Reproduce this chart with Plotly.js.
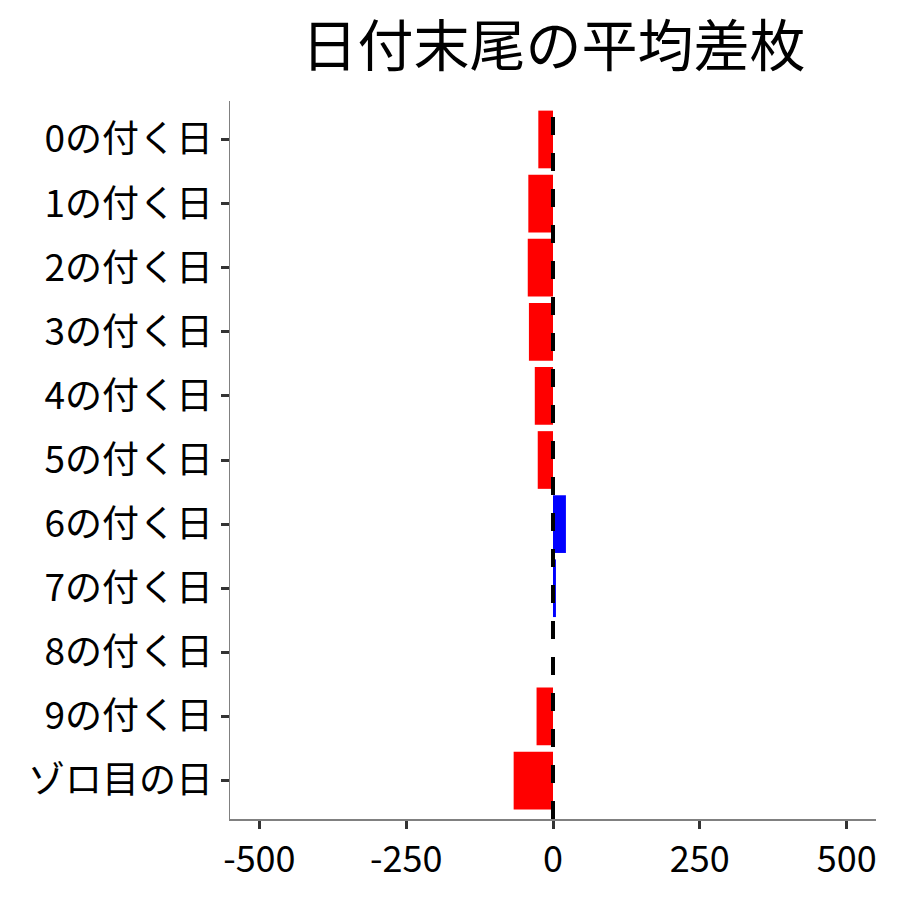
<!DOCTYPE html>
<html>
<head>
<meta charset="utf-8">
<script src="https://cdn.plot.ly/plotly-3.0.1.min.js"></script>
<style>html,body{margin:0;padding:0;background:#fff;}</style>
</head>
<body>
<div id="chart" style="width:900px;height:900px;"></div>
<script>
const categories = ["0の付く日","1の付く日","2の付く日","3の付く日","4の付く日","5の付く日","6の付く日","7の付く日","8の付く日","9の付く日","ゾロ目の日"];
const values = [-25, -42, -43, -41, -31, -26, 22, 5, 0, -28, -67];
const xTicks = [-500, -250, 0, 250, 500];
const xTickLabels = ["-500", "-250", "0", "250", "500"];
const titleText = "日付末尾の平均差枚";

const colors = values.map(v => v < 0 ? "#FF0000" : "#0000FF");
const font = "Noto Sans CJK JP, Noto Sans, sans-serif";

const trace = {
  type: "bar",
  orientation: "h",
  x: values,
  y: categories,
  marker: {color: colors, line: {width: 0}},
  width: 0.9,
  hoverinfo: "x+y"
};

const layout = {
  width: 900, height: 900,
  paper_bgcolor: "#ffffff", plot_bgcolor: "#ffffff",
  margin: {l: 230, r: 24, t: 101, b: 81},
  showlegend: false,
  title: {text: titleText, font: {family: font, size: 56, color: "#000"}, x: 0.615, xanchor: "center", y: 0.948, yanchor: "middle"},
  xaxis: {
    range: [-550, 550], tickvals: xTicks, ticktext: xTickLabels,
    showgrid: false, zeroline: false,
    showline: true, linecolor: "#808080", linewidth: 1.5,
    ticks: "outside", ticklen: 8, tickwidth: 3, tickcolor: "#333333",
    tickfont: {family: font, size: 36, color: "#000"}
  },
  yaxis: {
    type: "category", categoryorder: "array", categoryarray: categories,
    range: [10.6, -0.6],
    showgrid: false, zeroline: false,
    showline: true, linecolor: "#808080", linewidth: 1.5,
    ticks: "outside", ticklen: 8, tickwidth: 3, tickcolor: "#333333",
    tickfont: {family: font, size: 37, color: "#000"}
  },
  shapes: [{
    type: "line", xref: "x", yref: "paper", x0: 0, x1: 0, y0: 0, y1: 1,
    line: {color: "#000000", width: 4, dash: "18px,18px"}, layer: "above"
  }]
};

Plotly.newPlot("chart", [trace], layout, {displayModeBar: false, staticPlot: true});
</script>
</body>
</html>
